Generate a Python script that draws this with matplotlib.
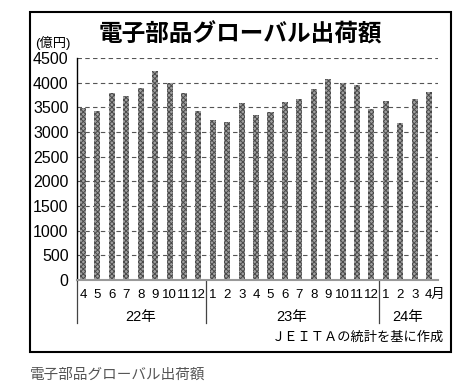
import matplotlib
matplotlib.use("Agg")
import matplotlib.pyplot as plt
from matplotlib.patches import Rectangle
from matplotlib.lines import Line2D

plt.rcParams['font.family'] = ['Liberation Sans', 'Noto Sans CJK JP', 'DejaVu Sans']
plt.rcParams['hatch.linewidth'] = 0.7

title = "電子部品グローバル出荷額"
unit = "(億円)"
source = "ＪＥＩＴＡの統計を基に作成"
caption = "電子部品グローバル出荷額"

months = ["4", "5", "6", "7", "8", "9", "10", "11", "12",
          "1", "2", "3", "4", "5", "6", "7", "8", "9", "10", "11", "12",
          "1", "2", "3", "4月"]
values = [3490, 3430, 3800, 3720, 3900, 4230, 3985, 3800, 3430,
          3240, 3210, 3590, 3350, 3410, 3610, 3670, 3880, 4080, 3985, 3960, 3470,
          3630, 3190, 3660, 3820]
years = ["22年", "23年", "24年"]
year_counts = [9, 12, 4]
yticks = [0, 500, 1000, 1500, 2000, 2500, 3000, 3500, 4000, 4500]

W, H = 470, 385
fig = plt.figure(figsize=(W / 100, H / 100), dpi=100)

def fx(px):
    return px / W

def fy(py):
    return 1 - py / H

ax = fig.add_axes([fx(77), fy(280), fx(438) - fx(77), fy(58) - fy(280)])
x = list(range(len(values)))
ax.bar(x, values, width=0.42, facecolor='#a0a0a0', edgecolor='#4a4a4a',
       hatch='xxxxxxx', linewidth=0, zorder=3)
ax.set_xlim(-0.42, 24.62)
ax.set_ylim(0, 4500)
ax.set_yticks(yticks)
ax.set_yticklabels([str(v) for v in yticks], fontsize=11.5)
ax.tick_params(axis='y', length=0, pad=6)
ax.tick_params(axis='x', length=0, labelbottom=False)
for v in yticks[1:]:
    ax.axhline(v, color='#555555', lw=0.8, ls=(0, (4, 3)), zorder=1)
for s in ['top', 'right']:
    ax.spines[s].set_visible(False)
ax.spines['left'].set_color('black')
ax.spines['left'].set_linewidth(1.0)
ax.spines['bottom'].set_color('#999999')
ax.spines['bottom'].set_linewidth(1.5)
ax.spines['bottom'].set_zorder(4)

trans = ax.get_xaxis_transform()
for i, m in enumerate(months):
    if m.endswith("月"):
        ax.text(i - 0.28, -0.04, m, transform=trans, ha='left', va='top', fontsize=9.5)
    else:
        ax.text(i, -0.04, m, transform=trans, ha='center', va='top', fontsize=9.5)

# year separators and labels
start = 0
seps = [-0.42]
for c in year_counts[:-1]:
    start += c
    seps.append(start - 0.5)
for s in seps:
    ax.add_line(Line2D([s, s], [0, -0.195], transform=trans, color='#444444',
                       lw=0.9, clip_on=False))
start = 0
for yl, c in zip(years, year_counts):
    center = start + (c - 1) / 2
    ax.text(center, -0.165, yl, transform=trans, ha='center', va='center', fontsize=10.5)
    start += c

fig.text(fx(240), fy(35), title, ha='center', va='center', fontsize=17,
         fontweight='bold')
fig.text(fx(35), fy(43), unit, ha='left', va='center', fontsize=9.5)
fig.text(fx(444), fy(338), source, ha='right', va='center', fontsize=9.5)
fig.text(fx(30), fy(375), caption, ha='left', va='center', fontsize=10.5,
         color='#555555')

fig.patches.append(Rectangle((fx(30), fy(352)), fx(451) - fx(30), fy(12) - fy(352),
                             transform=fig.transFigure, fill=False,
                             edgecolor='black', lw=1.5))

fig.savefig("out.png", dpi=100)
